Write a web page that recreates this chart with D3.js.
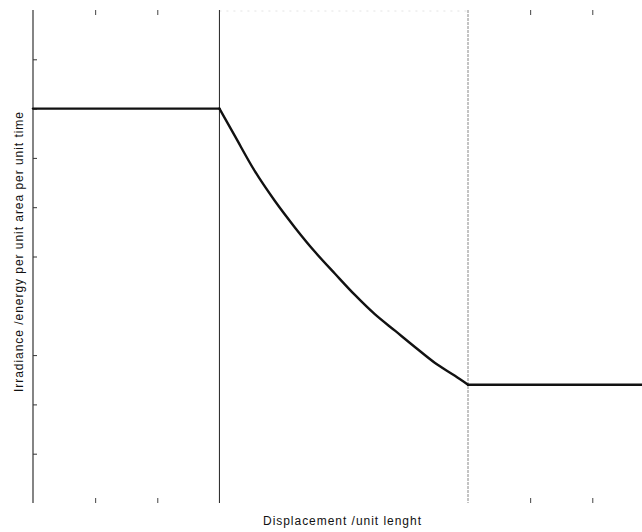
<!DOCTYPE html>
<html>
<head>
<meta charset="utf-8">
<script src="https://cdn.jsdelivr.net/npm/d3@7"></script>
<style>
  html, body { margin: 0; padding: 0; background: #fff; }
  svg { display: block; }
</style>
</head>
<body>
<svg id="chart" width="642" height="532"></svg>
<script>
// Irradiance profile: constant, falling through the absorbing region, then constant again
const displacement = [0, 3.0, 3.25, 3.57, 3.89, 4.22, 4.54, 4.86, 5.18, 5.50, 5.83, 6.15, 6.47, 6.79, 7.0, 9.8];
const irradiance   = [8.0, 8.0, 7.44, 6.73, 6.13, 5.58, 5.09, 4.65, 4.22, 3.83, 3.49, 3.16, 2.84, 2.58, 2.40, 2.40];

// Boundaries of the region
const boundaries = [3, 7];

// Tick positions along each axis
const xTicksTop = [1, 2, 8, 9];
const xTicksBottom = [1, 2, 8, 9];
const yTicks = [1, 2, 3, 5, 6, 7, 8, 9];

const xLabel = "Displacement /unit lenght";
const yLabel = "Irradiance /energy per unit area per unit time";

(function draw() {
  const svg = d3.select("#chart");
  const plotLeft = 33, plotRight = 642, plotTop = 10, plotBottom = 503;

  const x = d3.scaleLinear().domain([0, 9.8]).range([plotLeft, plotRight]);
  const y = d3.scaleLinear().domain([0, 10]).range([plotBottom, plotTop]);

  // Left axis with inward ticks
  const yAxis = svg.append("g")
    .attr("transform", `translate(${plotLeft},0)`)
    .call(d3.axisRight(y).tickValues(yTicks).tickSize(4).tickFormat(""));
  yAxis.select(".domain").remove();
  yAxis.selectAll("line").attr("stroke", "#333");
  svg.append("line")
    .attr("x1", plotLeft).attr("x2", plotLeft)
    .attr("y1", y(10)).attr("y2", y(0))
    .attr("stroke", "#333").attr("stroke-width", 1.2);

  // Top and bottom inward ticks
  const topAxis = svg.append("g")
    .attr("transform", `translate(0,${plotTop})`)
    .call(d3.axisBottom(x).tickValues(xTicksTop).tickSize(5).tickFormat(""));
  topAxis.select(".domain").remove();
  topAxis.selectAll("line").attr("stroke", "#444");

  const bottomAxis = svg.append("g")
    .attr("transform", `translate(0,${plotBottom})`)
    .call(d3.axisTop(x).tickValues(xTicksBottom).tickSize(5).tickFormat(""));
  bottomAxis.select(".domain").remove();
  bottomAxis.selectAll("line").attr("stroke", "#444");

  // Faint top edge between the boundaries
  svg.append("line")
    .attr("x1", x(boundaries[0])).attr("x2", x(boundaries[1]))
    .attr("y1", plotTop + 1).attr("y2", plotTop + 1)
    .attr("stroke", "#e4e4e4").attr("stroke-dasharray", "2,5");

  // Region boundaries
  svg.append("line")
    .attr("x1", x(boundaries[0])).attr("x2", x(boundaries[0]))
    .attr("y1", y(10)).attr("y2", y(0))
    .attr("stroke", "#222").attr("stroke-width", 1);
  svg.append("line")
    .attr("x1", x(boundaries[1])).attr("x2", x(boundaries[1]))
    .attr("y1", y(10)).attr("y2", y(0))
    .attr("stroke", "#888").attr("stroke-width", 1)
    .attr("stroke-dasharray", "3,1");

  // Irradiance curve: straight outside the region, smooth decay inside it
  const pts = displacement.map((d, i) => [d, irradiance[i]]);
  const inside = pts.filter(p => p[0] >= boundaries[0] && p[0] <= boundaries[1]);
  const before = pts.filter(p => p[0] <= boundaries[0]);
  const after = pts.filter(p => p[0] >= boundaries[1]);

  const straight = d3.line().x(d => x(d[0])).y(d => y(d[1])).curve(d3.curveLinear);
  const smooth = d3.line().x(d => x(d[0])).y(d => y(d[1])).curve(d3.curveMonotoneX);

  [[before, straight], [inside, smooth], [after, straight]].forEach(([seg, gen]) => {
    svg.append("path")
      .datum(seg)
      .attr("fill", "none")
      .attr("stroke", "#111")
      .attr("stroke-width", 2.4)
      .attr("stroke-linecap", "round")
      .attr("stroke-linejoin", "round")
      .attr("d", gen);
  });

  // Axis titles
  svg.append("text")
    .attr("x", 342).attr("y", 525)
    .attr("text-anchor", "middle")
    .attr("font-family", "Liberation Sans, Arial, sans-serif")
    .attr("font-size", 12)
    .attr("textLength", 158)
    .attr("lengthAdjust", "spacing")
    .attr("fill", "#111")
    .text(xLabel);

  svg.append("text")
    .attr("transform", "translate(23,252) rotate(-90)")
    .attr("text-anchor", "middle")
    .attr("font-family", "Liberation Sans, Arial, sans-serif")
    .attr("font-size", 12)
    .attr("textLength", 280)
    .attr("lengthAdjust", "spacing")
    .attr("fill", "#111")
    .text(yLabel);
})();
</script>
</body>
</html>
